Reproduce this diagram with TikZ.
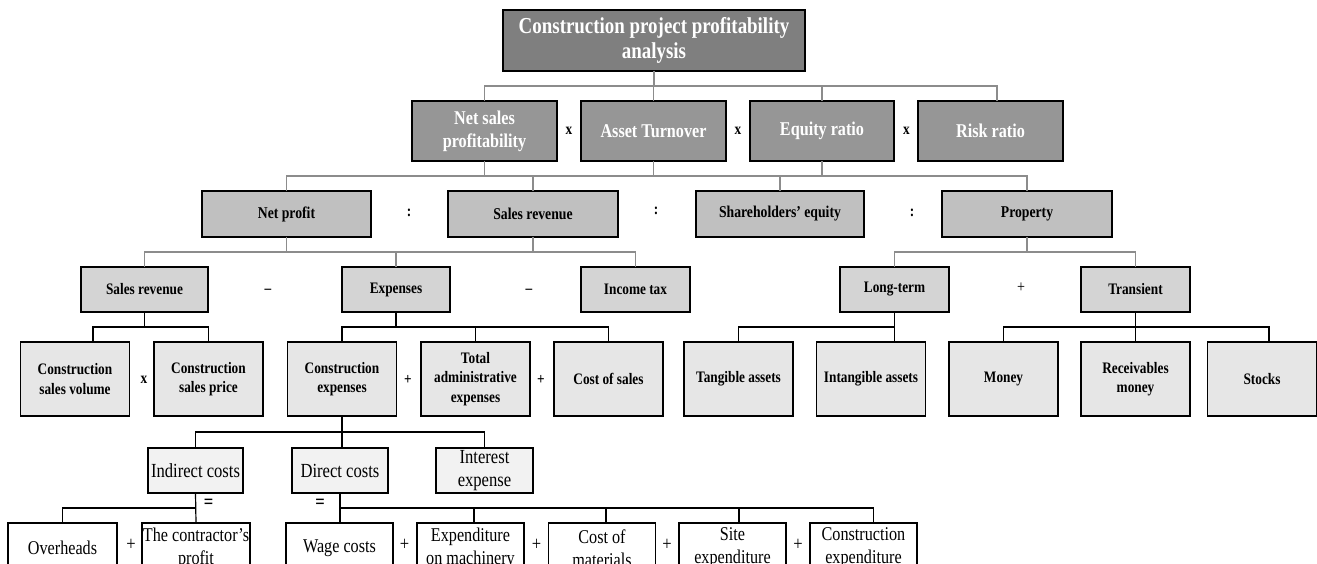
\documentclass[tikz,border=0pt]{standalone}
\usepackage{fontspec}
\setmainfont[FakeStretch=0.83]{Liberation Serif}
\definecolor{cT}{HTML}{7F7F7F}
\definecolor{cB}{HTML}{969696}
\definecolor{cC}{HTML}{C0C0C0}
\definecolor{cD}{HTML}{D4D4D4}
\definecolor{cE}{HTML}{E6E6E6}
\definecolor{cF}{HTML}{F2F2F2}
\definecolor{cL}{HTML}{8C8C8C}
\begin{document}
\begin{tikzpicture}[x=1pt,y=-1pt,
 box/.style={draw=black, line width=1.1pt, inner sep=0pt, outer sep=0pt, align=center},
 ttl/.style={box, fill=cT, text=white, font=\fontsize{22.8}{25}\selectfont\bfseries, minimum width=302pt, minimum height=61pt},
 rtwo/.style={box, fill=cB, text=white, font=\fontsize{19.5}{23}\selectfont\bfseries, minimum height=60pt},
 rthree/.style={box, fill=cC, font=\fontsize{16.5}{19}\selectfont\bfseries, minimum height=46pt},
 rfour/.style={box, fill=cD, font=\fontsize{16}{19}\selectfont\bfseries, minimum height=45pt},
 rfive/.style={box, fill=cE, font=\fontsize{16}{19.5}\selectfont\bfseries, minimum width=109pt, minimum height=74pt},
 rsix/.style={box, fill=cF, font=\fontsize{20}{23}\selectfont, minimum height=45pt},
 rseven/.style={box, fill=white, font=\fontsize{19.5}{23}\selectfont, minimum width=107pt, minimum height=50pt},
 opb/.style={inner sep=0pt, font=\fontsize{16}{19}\selectfont\bfseries},
 opeq/.style={inner sep=0pt, font=\fontsize{20}{23}\selectfont\bfseries},
 opr/.style={inner sep=0pt, font=\fontsize{20}{23}\selectfont},
 gl/.style={draw=cL, line width=1.5pt},
 bl/.style={draw=black, line width=1.2pt}]
\clip (0,0) rectangle (1317,564);
\fill[white] (0,0) rectangle (1317,564);

% Title
\node[ttl] (title) at (654,40.5) {Construction project profitability\\analysis};

% Row 2
\node[rtwo, minimum width=145pt] (nsp) at (484.5,131) {Net sales\\profitability};
\node[rtwo, minimum width=145pt] (at) at (653.5,131) {Asset Turnover};
\node[rtwo, minimum width=144pt] (eq) at (822,131) {Equity ratio};
\node[rtwo, minimum width=145pt] (risk) at (990.5,131) {Risk ratio};
\node[opb] (o21) at (569,131) {x};
\node[opb] (o22) at (738,131) {x};
\node[opb] (o23) at (906.5,131) {x};

% Row 3
\node[rthree, minimum width=169pt] (np) at (286.5,214) {Net profit};
\node[rthree, minimum width=170pt] (sr) at (533,214) {Sales revenue};
\node[rthree, minimum width=168pt] (she) at (780,214) {Shareholders' equity};
\node[rthree, minimum width=170pt] (prop) at (1027,214) {Property};
\node[opb] (o31) at (409,213) {:};
\node[opb] (o32) at (656,211) {:};
\node[opb] (o33) at (912,213) {:};

% Row 4
\node[rfour, minimum width=127pt] (srf) at (144.5,289.5) {Sales revenue};
\node[rfour, minimum width=108pt] (ex) at (396,289.5) {Expenses};
\node[rfour, minimum width=109pt] (it) at (635.5,289.5) {Income tax};
\node[rfour, minimum width=109pt] (lt) at (894.5,289.5) {Long-term};
\node[rfour, minimum width=109pt] (tr) at (1135.5,289.5) {Transient};
\node[opb] (o41) at (268,291) {\textendash};
\node[opb] (o42) at (529,291) {\textendash};
\node[inner sep=0pt, font=\fontsize{17}{19}\selectfont] (o43) at (1021,288) {+};

% Row 5
\node[rfive] (csv) at (75,379) {Construction\\sales volume};
\node[rfive] (csp) at (208.5,379) {Construction\\sales price};
\node[rfive] (ce) at (342,379) {Construction\\expenses};
\node[rfive] (tae) at (475.5,379) {Total\\administrative\\expenses};
\node[rfive] (cos) at (608.5,379) {Cost of sales};
\node[rfive] (ta) at (738.5,379) {Tangible assets};
\node[rfive] (ia) at (871,379) {Intangible assets};
\node[rfive] (mon) at (1003.5,379) {Money};
\node[rfive] (rec) at (1135.5,379) {Receivables\\money};
\node[rfive] (sto) at (1262,379) {Stocks};
\node[opb] (o51) at (144,380) {x};
\node[opb] (o52) at (408,380) {+};
\node[opb] (o53) at (541,380) {+};

% Row 6
\node[rsix, minimum width=95pt] (ic) at (195.5,470.5) {Indirect costs};
\node[rsix, minimum width=96pt] (dc) at (340,470.5) {Direct costs};
\node[rsix, minimum width=97pt] (ie) at (484.5,470.5) {Interest\\expense};

% Row 7
\node[rseven, minimum width=109pt] (ovh) at (62.5,548) {Overheads};
\node[rseven, minimum width=108pt] (cp) at (196,548) {The contractor's\\profit};
\node[rseven] (wc) at (339.5,548) {Wage costs};
\node[rseven] (em) at (470.5,548) {Expenditure\\on machinery};
\node[rseven] (com) at (602,548) {Cost of\\materials};
\node[rseven] (site) at (732.5,548) {Site\\expenditure};
\node[rseven] (cex) at (863.5,548) {Construction\\expenditure};
\node[opeq] (e1) at (208.5,504) {=};
\node[opeq] (e2) at (320,504) {=};
\node[opr] (p71) at (131,545) {+};
\node[opr] (p72) at (404.5,545) {+};
\node[opr] (p73) at (536.5,545) {+};
\node[opr] (p74) at (667,545) {+};
\node[opr] (p75) at (798,545) {+};

% Connectors: title -> row 2
\draw[gl] (title.south) -- ++(0,15);
\draw[gl] (nsp.north) -- ++(0,-15) -| ([xshift=6.5pt]risk.north);
\draw[gl] (at.north) -- ++(0,-15);
\draw[gl] (eq.north) -- ++(0,-15);

% row 2 -> row 3
\draw[gl] (np.north) -- ++(0,-15) -| (prop.north);
\draw[gl] (sr.north) -- ++(0,-15);
\draw[gl] (she.north) -- ++(0,-15);
\draw[gl] (nsp.south) -- ++(0,15);
\draw[gl] (at.south) -- ++(0,15);
\draw[gl] (eq.south) -- ++(0,15);

% row 3 -> row 4
\draw[gl] (srf.north) -- ++(0,-15) -| (it.north);
\draw[gl] (ex.north) -- ++(0,-15);
\draw[gl] (np.south) -- ++(0,15);
\draw[gl] (sr.south) -- ++(0,15);
\draw[gl] (lt.north) -- ++(0,-15) -| (tr.north);
\draw[gl] (prop.south) -- ++(0,15);

% row 4 -> row 5
\draw[bl] ([xshift=18pt]csv.north) -- ++(0,-15) -| (csp.north);
\draw[bl] (srf.south) -- ++(0,15);
\draw[bl] (ce.north) -- ++(0,-15) -| (cos.north);
\draw[bl] (tae.north) -- ++(0,-15);
\draw[bl] (ex.south) -- ++(0,15);
\draw[bl] (ta.north) -- ++(0,-15) -| (lt.south);
\draw[bl] (lt.south) -- (lt.south |- ia.north);
\draw[bl] (mon.north) -- ++(0,-15) -| ([xshift=7pt]sto.north);
\draw[bl] (tr.south) -- (rec.north);

% row 5 -> row 6
\draw[bl] (ic.north) -- ++(0,-16) -| (ie.north);
\draw[bl] (ce.south) -- (ce.south |- dc.north);

% row 6 -> row 7
\draw[bl] (ovh.north) -- ++(0,-15) -| (ic.south);
\draw[bl] (ic.south) -- (cp.north);
\draw[bl] (dc.south) -- (dc.south |- wc.north);
\draw[bl] (dc.south) ++(0,15) -| ([xshift=10pt]cex.north);
\draw[bl] ([xshift=3.5pt]em.north) -- ++(0,-15);
\draw[bl] ([xshift=4pt]com.north) -- ++(0,-15);
\draw[bl] ([xshift=6.5pt]site.north) -- ++(0,-15);
\end{tikzpicture}
\end{document}
